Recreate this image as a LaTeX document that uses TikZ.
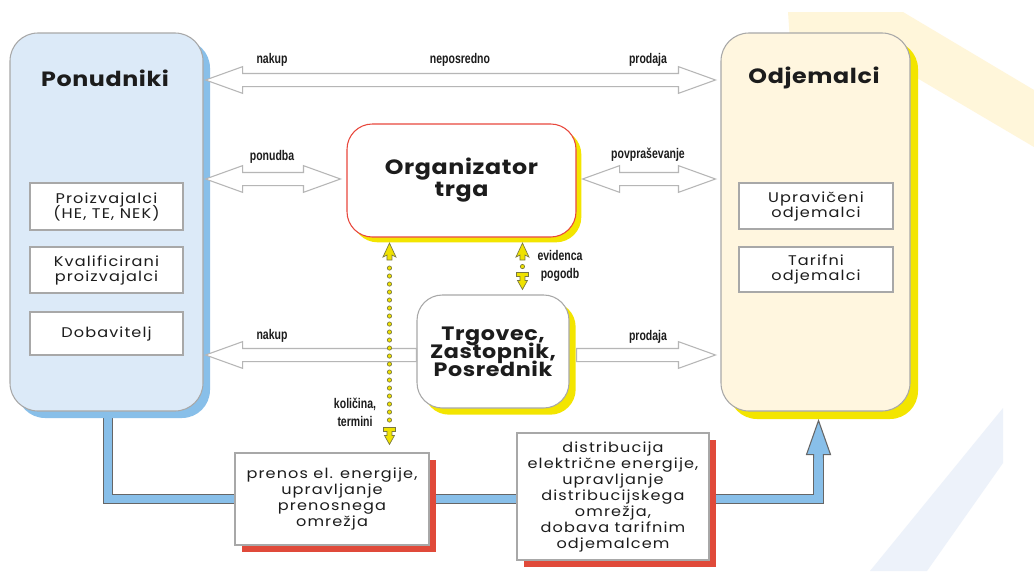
\documentclass[tikz,border=0pt]{standalone}
\usepackage{fontspec}
\setmainfont{Poppins}
\newfontfamily\headfont{Poppins}[FakeStretch=1.15,LetterSpace=3]
\newfontfamily\boxfont{Poppins}[FakeStretch=1.15,LetterSpace=8]
\newfontfamily\lblfont{Liberation Sans}[FakeStretch=0.75]
\newcommand\tightlines{\lineskiplimit=-\maxdimen}
\usetikzlibrary{calc,shadows}

\definecolor{ink}{HTML}{1C1C1C}
\definecolor{boxgray}{HTML}{A8A8A8}
\definecolor{arrowgray}{HTML}{B6B6B6}
\definecolor{ponfill}{HTML}{DCEAF8}
\definecolor{pipeblue}{HTML}{88BFE9}
\definecolor{pipeedge}{HTML}{666666}
\definecolor{odjfill}{HTML}{FFF6DF}
\definecolor{shyellow}{HTML}{F3E500}
\definecolor{orgred}{HTML}{E8473C}
\definecolor{redshadow}{HTML}{E04A3A}
\definecolor{bandyellow}{HTML}{FFF6DA}
\definecolor{bandblue}{HTML}{EDF2FA}
\definecolor{arrowyellow}{HTML}{EFE200}
\definecolor{arrowedge}{HTML}{7A7840}

\pgfdeclarelayer{deco}
\pgfdeclarelayer{pipes}
\pgfsetlayers{deco,pipes,main}

\begin{document}
\begin{tikzpicture}[x=0.75pt,y=-0.75pt,
  every node/.style={text=ink},
  group/.style={draw=boxgray, line width=0.8pt, rounded corners=21pt, inner sep=0pt},
  heading/.style={font=\headfont\bfseries\fontsize{15.5}{19}\selectfont, inner sep=0pt},
  entity/.style={draw=boxgray, line width=0.8pt, fill=white, inner sep=0pt, align=center,
    font=\boxfont\fontsize{10.5}{11.25}\selectfont\tightlines},
  hub/.style={draw=boxgray, line width=0.8pt, fill=white, rounded corners=19pt,
    align=center, inner sep=0pt},
  netbox/.style={draw=boxgray, line width=0.8pt, fill=white, align=center, inner sep=0pt,
    font=\boxfont\fontsize{10.5}{12}\selectfont\tightlines},
  bshadow/.style={drop shadow={shadow xshift=5.25pt, shadow yshift=-5.25pt, fill=pipeblue, opacity=1}},
  yshadow/.style={drop shadow={shadow xshift=#1, shadow yshift=-#1, fill=shyellow, opacity=1}},
  rshadow/.style={drop shadow={shadow xshift=5pt, shadow yshift=-5pt, fill=redshadow, opacity=1}},
  lbl/.style={font=\lblfont\bfseries\fontsize{10.5}{13.5}\selectfont\tightlines, inner sep=0pt, align=center},
  blockdbl/.style={draw=arrowgray, fill=white, line width=0.8pt, line join=miter,
    to path={let \p1=(\tikztostart), \p2=(\tikztotarget),
      \p3=($(\tikztostart)!27.75pt!(\tikztotarget)$),
      \p4=($(\tikztotarget)!27.75pt!(\tikztostart)$) in
      (\x1,\y1) -- (\x3,\y1+10pt) -- (\x3,\y1+4.9pt) -- (\x4,\y1+4.9pt) -- (\x4,\y1+10pt)
      -- (\x2,\y1) -- (\x4,\y1-10pt) -- (\x4,\y1-4.9pt) -- (\x3,\y1-4.9pt) -- (\x3,\y1-10pt) -- cycle}},
  blockone/.style={draw=arrowgray, fill=white, line width=0.8pt, line join=miter,
    to path={let \p1=(\tikztostart), \p2=(\tikztotarget),
      \p4=($(\tikztotarget)!27.75pt!(\tikztostart)$) in
      (\x1,\y1+4.9pt) -- (\x4,\y1+4.9pt) -- (\x4,\y1+10pt) -- (\x2,\y1)
      -- (\x4,\y1-10pt) -- (\x4,\y1-4.9pt) -- (\x1,\y1-4.9pt) -- cycle}},
  ytip/.style={fill=arrowyellow, draw=arrowedge, line width=0.5pt, line join=miter},
]
\useasboundingbox (0,0) rectangle (1034,571);

% page and pale decorative bands
\begin{pgfonlayer}{deco}
  \fill[white] (0,0) rectangle (1034,571);
  \fill[bandyellow] (788,12) -- (903,12) -- (1034,90) -- (1034,147) -- (917,78) -- (905,72) -- (792,70) -- cycle;
  \fill[bandblue] (1003,408) -- (1003,463) -- (927,571) -- (870,571) -- cycle;
\end{pgfonlayer}

% suppliers
\node[group, fill=ponfill, bshadow, minimum width=144.75pt, minimum height=283.5pt] (pon) at (106.5,222) {};
\node[heading] (ponT) at (105,78) {Ponudniki};
\node[entity, minimum width=114.75pt, minimum height=35.25pt] (p1) at (106.5,206.5) {Proizvajalci\\(HE, TE, NEK)};
\node[entity, minimum width=114.75pt, minimum height=34.5pt] (p2) at (106.5,270) {Kvalificirani\\proizvajalci};
\node[entity, minimum width=114.75pt, minimum height=32.25pt] (p3) at (106.5,333.5) {Dobavitelj};

% consumers
\node[group, fill=odjfill, yshadow=6pt, minimum width=141.75pt, minimum height=283.5pt] (odj) at (815.5,222) {};
\node[heading] (odjT) at (814,78) {Odjemalci};
\node[entity, minimum width=115.5pt, minimum height=34.5pt] (o1) at (816,206) {Upravičeni\\odjemalci};
\node[entity, minimum width=115.5pt, minimum height=33.75pt] (o2) at (816,269.5) {Tarifni\\odjemalci};

% market organiser and trader
\node[hub, draw=orgred, yshadow=4pt, minimum width=171.75pt, minimum height=84.75pt,
  font=\headfont\bfseries\fontsize{15.5}{16.5}\selectfont\tightlines] (org) at (461.5,180.5) {Organizator\\trga};
\node[hub, yshadow=5pt, minimum width=114pt, minimum height=84.75pt,
  font=\headfont\bfseries\fontsize{14.5}{13.5}\selectfont\tightlines] (trg) at (493,351.5) {Trgovec,\\Zastopnik,\\Posrednik};

% network operators
\node[netbox, rshadow, minimum width=145.5pt, minimum height=69pt] (prn) at (332,499)
  {prenos el. energije,\\upravljanje\\prenosnega\\omrežja};
\node[netbox, rshadow, minimum width=144pt, minimum height=95.25pt] (dst) at (613,496.5)
  {distribucija\\električne energije,\\upravljanje\\distribucijskega\\omrežja,\\dobava tarifnim\\odjemalcem};

% energy flow pipe
\begin{pgfonlayer}{pipes}
  \coordinate (pipeTop) at ($(pon.south)+(1.5,0)$);
  \coordinate (headTip) at ($(odj.south)+(3,9)$);
  \coordinate (headBase) at ($(headTip)+(0,34)$);
  \foreach \w/\c in {8pt/pipeedge, 6.4pt/pipeblue} {
    \draw[line width=\w, draw=\c, line join=miter]
      (pipeTop) |- (prn.west)
      (prn.east) -- (prn.east -| dst.west)
      (dst.east |- prn.east) -| (headBase);
  }
  \filldraw[fill=pipeblue, draw=pipeedge, line width=0.8pt, line join=miter]
    ($(headBase)+(4.8,4)$) -- ($(headBase)+(4.8,0)$) -- ($(headBase)+(12,0)$) -- (headTip)
    -- ($(headBase)+(-12,0)$) -- ($(headBase)+(-4.8,0)$) -- ($(headBase)+(-4.8,4)$);
\end{pgfonlayer}

% trade arrows
\coordinate (rowA) at (0,80);
\coordinate (rowB) at (0,179);
\coordinate (rowC) at (0,355);
\draw[blockdbl] ($(pon.east |- rowA)+(2,0)$) to ($(odj.west |- rowA)+(-5,0)$);
\draw[blockdbl] ($(pon.east |- rowB)+(2,0)$) to ($(org.west |- rowB)+(-6,0)$);
\draw[blockdbl] ($(org.east |- rowB)+(6,0)$) to ($(odj.west |- rowB)+(-5,0)$);
\draw[blockone] (trg.west |- rowC) to ($(pon.east |- rowC)+(2,0)$);
\draw[blockone] ($(trg.east |- rowC)+(7,0)$) to ($(odj.west |- rowC)+(-5,0)$);

\node[lbl] (lNak) at (272,60) {nakup};
\node[lbl] (lNep) at (460,60) {neposredno};
\node[lbl] (lPro) at (648,60) {prodaja};
\node[lbl] (lPon) at (272,157) {ponudba};
\node[lbl] (lPov) at (648,155) {povpraševanje};
\node[lbl] (lNak2) at (272,336) {nakup};
\node[lbl] (lPro2) at (648,337) {prodaja};
\node[lbl] (lEvi) at (560,266) {evidenca\\pogodb};
\node[lbl] (lKol) at (355,412) {količina,\\termini};

% quantities / schedules link (dotted)
\coordinate (qA) at ($(org.south west |- org.south)+(43,5.5)$);
\coordinate (qB) at ($(qA |- prn.north)+(0,-8)$);
\filldraw[ytip] (qA) -- ++(6.5,14) -- ++(-4,-2) -- ++(0,5) -- ++(-5,0) -- ++(0,-5) -- ++(-4,2) -- cycle;
\foreach \k in {0,...,19}
  \filldraw[ytip] ($(qA)+(0,25+8*\k)$) circle[radius=1.6pt];
\filldraw[ytip] (qB) -- ++(5,-9) -- ++(-2.5,0) -- ++(0,-4) -- ++(3.5,0) -- ++(0,-4) -- ++(-12,0)
  -- ++(0,4) -- ++(3.5,0) -- ++(0,4) -- ++(-2.5,0) -- cycle;

% contract records link
\coordinate (eA) at ($(org.south west |- org.south)+(176,5.5)$);
\coordinate (eB) at ($(eA |- trg.north)+(0,-5)$);
\filldraw[ytip] (eA) -- ++(6.5,14) -- ++(-4,-2) -- ++(0,5) -- ++(-5,0) -- ++(0,-5) -- ++(-4,2) -- cycle;
\filldraw[ytip] ($(eA)+(0,23.5)$) circle[radius=1.6pt];
\filldraw[ytip] (eB) -- ++(5,-9) -- ++(-2.5,0) -- ++(0,-4) -- ++(3.5,0) -- ++(0,-4) -- ++(-12,0)
  -- ++(0,4) -- ++(3.5,0) -- ++(0,4) -- ++(-2.5,0) -- cycle;
\end{tikzpicture}
\end{document}
